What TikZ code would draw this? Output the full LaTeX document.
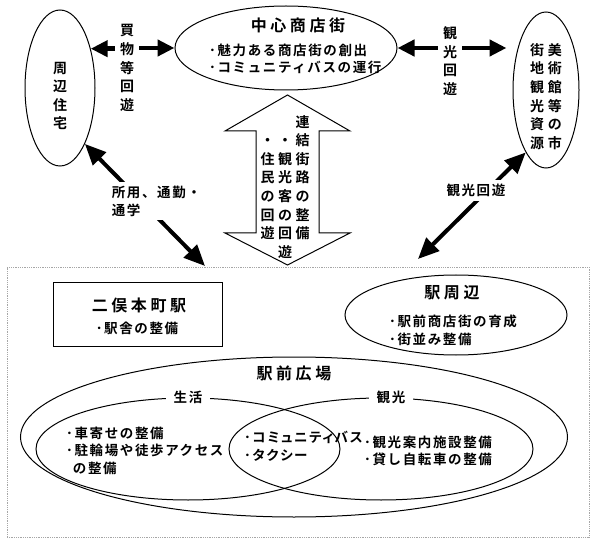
\documentclass[tikz,border=0pt]{standalone}
\usepackage{fontspec}
\newfontfamily\jp{Noto Sans CJK JP}[BoldFont={Noto Sans CJK JP Bold}]
\usetikzlibrary{positioning,shapes.geometric,arrows.meta}

\begin{document}
\begin{tikzpicture}[
  x=1pt, y=-1pt,
  txt/.style={font=\jp\bfseries\fontsize{13.5}{17.5}\selectfont\addfontfeature{LetterSpace=12}, inner sep=0pt, align=left},
  txtp/.style={txt, font=\jp\bfseries\fontsize{13.5}{17.5}\selectfont\addfontfeature{LetterSpace=12,RawFeature=+palt}},
  ttl/.style={font=\jp\bfseries\fontsize{16}{20}\selectfont\addfontfeature{LetterSpace=22}, inner sep=0pt},
  vert/.style={font=\jp\bfseries\fontsize{14}{18.6}\selectfont, align=center, inner sep=5pt},
  oval/.style={draw, ellipse, line width=1pt, inner sep=0pt},
  tag/.style={txt, fill=white, inner xsep=8pt, inner ysep=2pt},
  arr/.style={-{Triangle[length=17pt,width=16pt]}, line width=4.5pt},
  darr/.style={{Triangle[length=21pt,width=18pt]}-{Triangle[length=21pt,width=18pt]}, line width=4pt},
]
\useasboundingbox (0,0) rectangle (600,540);
% upper row
\node[oval, minimum width=70pt, minimum height=156pt] (shuhen) at (60,88) {};
\node[vert] (shuhenT) at (60,96) {周\\辺\\住\\宅};
\node[oval, minimum width=222pt, minimum height=84pt] (chushin) at (286,48) {};
\node[ttl] (chushinT) at (298,25) {中心商店街};
\node[txt, anchor=west] (chushinB) at (209,59) {･魅力ある商店街の創出\\･コミュニティバスの運行};
\node[oval, minimum width=66pt, minimum height=156pt] (bijutsu) at (546,90) {};
\node[vert] (bijutsuT) at (546,98) {\begin{tabular}{@{}c@{\hspace{4pt}}c@{}}街&美\\地&術\\観&館\\光&等\\資&の\\源&市\end{tabular}};
\node[vert] (kaimono) at (127,68) {買\\物\\等\\回\\遊};
\node[vert] (kanko1) at (450,61) {観\\光\\回\\遊};
% link street (big arrow)
\draw[line width=1pt, fill=white] (287.5,95) -- (350,131) -- (319,131) -- (319,233) -- (350,233)
  -- (287.5,265) -- (225,233) -- (256,233) -- (256,131) -- (225,131) -- cycle;
\node[vert, inner sep=0pt] (renketsu) at (285,188.5) {\begin{tabular}{@{}c@{\hspace{3.5pt}}c@{\hspace{3.5pt}}c@{}}
  & &連\\・&・&結\\住&観&街\\民&光&路\\の&客&の\\回&の&整\\遊&回&備\\ &遊& \end{tabular}};
% station area
\node[draw=gray!70, densely dotted, line width=0.8pt, minimum width=582pt, minimum height=270pt, inner sep=0pt] (area) at (298,402) {};
\node[draw, line width=1pt, minimum width=169pt, minimum height=63pt] (futamata) at (137.5,314.5) {};
\node[ttl] (futamataT) at (139,305) {二俣本町駅};
\node[txt] (futamataB) at (137,328) {･駅舎の整備};
\node[oval, minimum width=222pt, minimum height=80pt] (ekishuhen) at (456,315) {};
\node[ttl] (ekishuhenT) at (452,293) {駅周辺};
\node[txt, anchor=west] (ekishuhenB) at (389,330.5) {･駅前商店街の育成\\･街並み整備};
\node[oval, minimum width=547pt, minimum height=160pt] (ekimae) at (294,437) {};
\node[ttl] (ekimaeT) at (294,373) {駅前広場};
\node[oval, minimum width=304pt, minimum height=102pt] (seikatsu) at (188,449) {};
\node[oval, minimum width=304pt, minimum height=102pt] (kanko3) at (381,449) {};
\node[tag] (seikatsuL) at (seikatsu.north) {生活};
\node[tag] (kanko3L) at ([xshift=10pt]kanko3.north) {観光};
\node[txt, anchor=west] (seikatsuB) at (66,450.5) {･車寄せの整備\\･駐輪場や徒歩アクセス\\\phantom{･}の整備};
\node[txtp, anchor=west] (bothB) at (244,446.5) {･コミュニティバス\\･タクシー};
\node[txt, anchor=west] (kanko3B) at (364,451) {･観光案内施設整備\\･貸し自転車の整備};
% arrows
\coordinate (shoyoEnd) at (205,266);
\coordinate (kankoEnd) at (418,259);
\draw[arr] (kaimono.west |- shuhen.52) -- (shuhen.52);
\draw[arr] (kaimono.east |- chushin.west) -- (chushin.west);
\draw[arr] (kanko1.west |- chushin.east) -- (chushin.east);
\draw[arr, shorten >=6pt] (kanko1.east |- chushin.east) -- (bijutsu.west |- chushin.east);
\draw[darr] (shuhen.-66) -- node[txt, fill=white, inner sep=4pt, pos=0.47, xshift=15pt] (shoyo) {所用、通勤・\\通学} (shoyoEnd);
\draw[darr] (kankoEnd) -- node[txt, fill=white, inner sep=4pt, pos=0.64, xshift=-11pt] (kanko2) {観光回遊} (bijutsu.252);
\end{tikzpicture}
\end{document}
